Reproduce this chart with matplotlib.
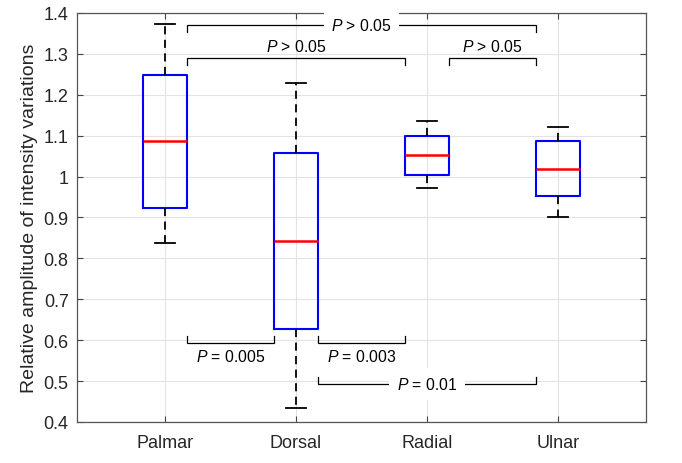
"""Boxplot of relative intensity-variation amplitude per finger side."""

import matplotlib
matplotlib.use("Agg")
import matplotlib.pyplot as plt

# ── Data ─────────────────────────────────────────────────────────────────────

groups = ["Palmar", "Dorsal", "Radial", "Ulnar"]
medians = [1.086, 0.842, 1.053, 1.019]
q1 = [0.924, 0.627, 1.005, 0.953]
q3 = [1.249, 1.058, 1.100, 1.086]
whisk_lo = [0.837, 0.434, 0.971, 0.901]
whisk_hi = [1.372, 1.229, 1.137, 1.122]

# significance brackets: (group a, group b, y, label, label position)
brackets = [
    (1, 4, 1.371, "> 0.05", "gap"),
    (1, 3, 1.289, "> 0.05", "above"),
    (3, 4, 1.289, "> 0.05", "above"),
    (1, 2, 0.593, "= 0.005", "below"),
    (2, 3, 0.593, "= 0.003", "below"),
    (2, 4, 0.493, "= 0.01", "gap"),
]

FONT = "Liberation Sans"
HALF = 0.17      # half box width, data units
TICK = 0.017     # bracket end drop
PSIZE = 11.3

plt.rcParams["mathtext.fontset"] = "custom"
plt.rcParams["mathtext.it"] = "Liberation Sans:italic"
plt.rcParams["mathtext.rm"] = "Liberation Sans"

fig = plt.figure(figsize=(6.82, 4.64), dpi=100)
ax = fig.add_axes([77 / 682, 41 / 464, 569 / 682, 409 / 464])

stats = []
for i, g in enumerate(groups):
    stats.append(dict(label=g, med=medians[i], q1=q1[i], q3=q3[i],
                      whislo=whisk_lo[i], whishi=whisk_hi[i], fliers=[]))

ax.bxp(stats, positions=range(1, len(groups) + 1), widths=2 * HALF,
       showfliers=False, capwidths=0.15,
       boxprops=dict(color="#0000FF", linewidth=1.5),
       medianprops=dict(color="#FF0000", linewidth=1.8),
       whiskerprops=dict(color="black", linewidth=1.3, linestyle=(0, (4.5, 3))),
       capprops=dict(color="black", linewidth=1.3),
       zorder=3)

# ── Brackets ──
for a, b, y, lab, where in brackets:
    x0, x1 = a + HALF, b - HALF
    up = y > 1.0
    d = -TICK if up else TICK
    ax.plot([x0, x0, x1, x1], [y + d, y, y, y + d], color="black",
            linewidth=0.9, zorder=4, solid_joinstyle="miter")
    xm = (x0 + x1) / 2
    txt = f"$\\it{{P}}$ {lab}"
    if where == "gap":
        ax.text(xm, y, txt, ha="center", va="center", fontsize=PSIZE,
                fontfamily=FONT, zorder=5,
                bbox=dict(facecolor="white", edgecolor="none", pad=5.5))
    elif where == "above":
        ax.text(xm, y + 0.01, txt, ha="center", va="bottom",
                fontsize=PSIZE, fontfamily=FONT, zorder=5)
    else:
        ax.text(xm, y - 0.013, txt, ha="center", va="top",
                fontsize=PSIZE, fontfamily=FONT, zorder=5)

# ── Axes styling ──
ax.set_xlim(0.33, 4.67)
ax.set_ylim(0.4, 1.4)
ax.set_yticks([0.4 + 0.1 * k for k in range(11)])
ax.set_yticklabels(["0.4", "0.5", "0.6", "0.7", "0.8", "0.9", "1",
                    "1.1", "1.2", "1.3", "1.4"])
ax.set_xticks(range(1, len(groups) + 1))
ax.set_xticklabels(groups)
ax.grid(True, color="#E3E3E3", linewidth=0.8, zorder=0)
ax.set_axisbelow(True)
ax.tick_params(direction="in", top=True, right=True, length=4,
               color="#444444", labelsize=13, pad=6)
ax.tick_params(axis="x", pad=9)
for lbl in ax.get_xticklabels() + ax.get_yticklabels():
    lbl.set_fontfamily(FONT)
    lbl.set_color("#262626")
for s in ax.spines.values():
    s.set_color("#555555")
    s.set_linewidth(0.9)
ax.set_ylabel("Relative amplitude of intensity variations", fontsize=14,
              fontfamily=FONT, color="#262626", labelpad=4)

fig.savefig("out.png", dpi=100, facecolor="white")
